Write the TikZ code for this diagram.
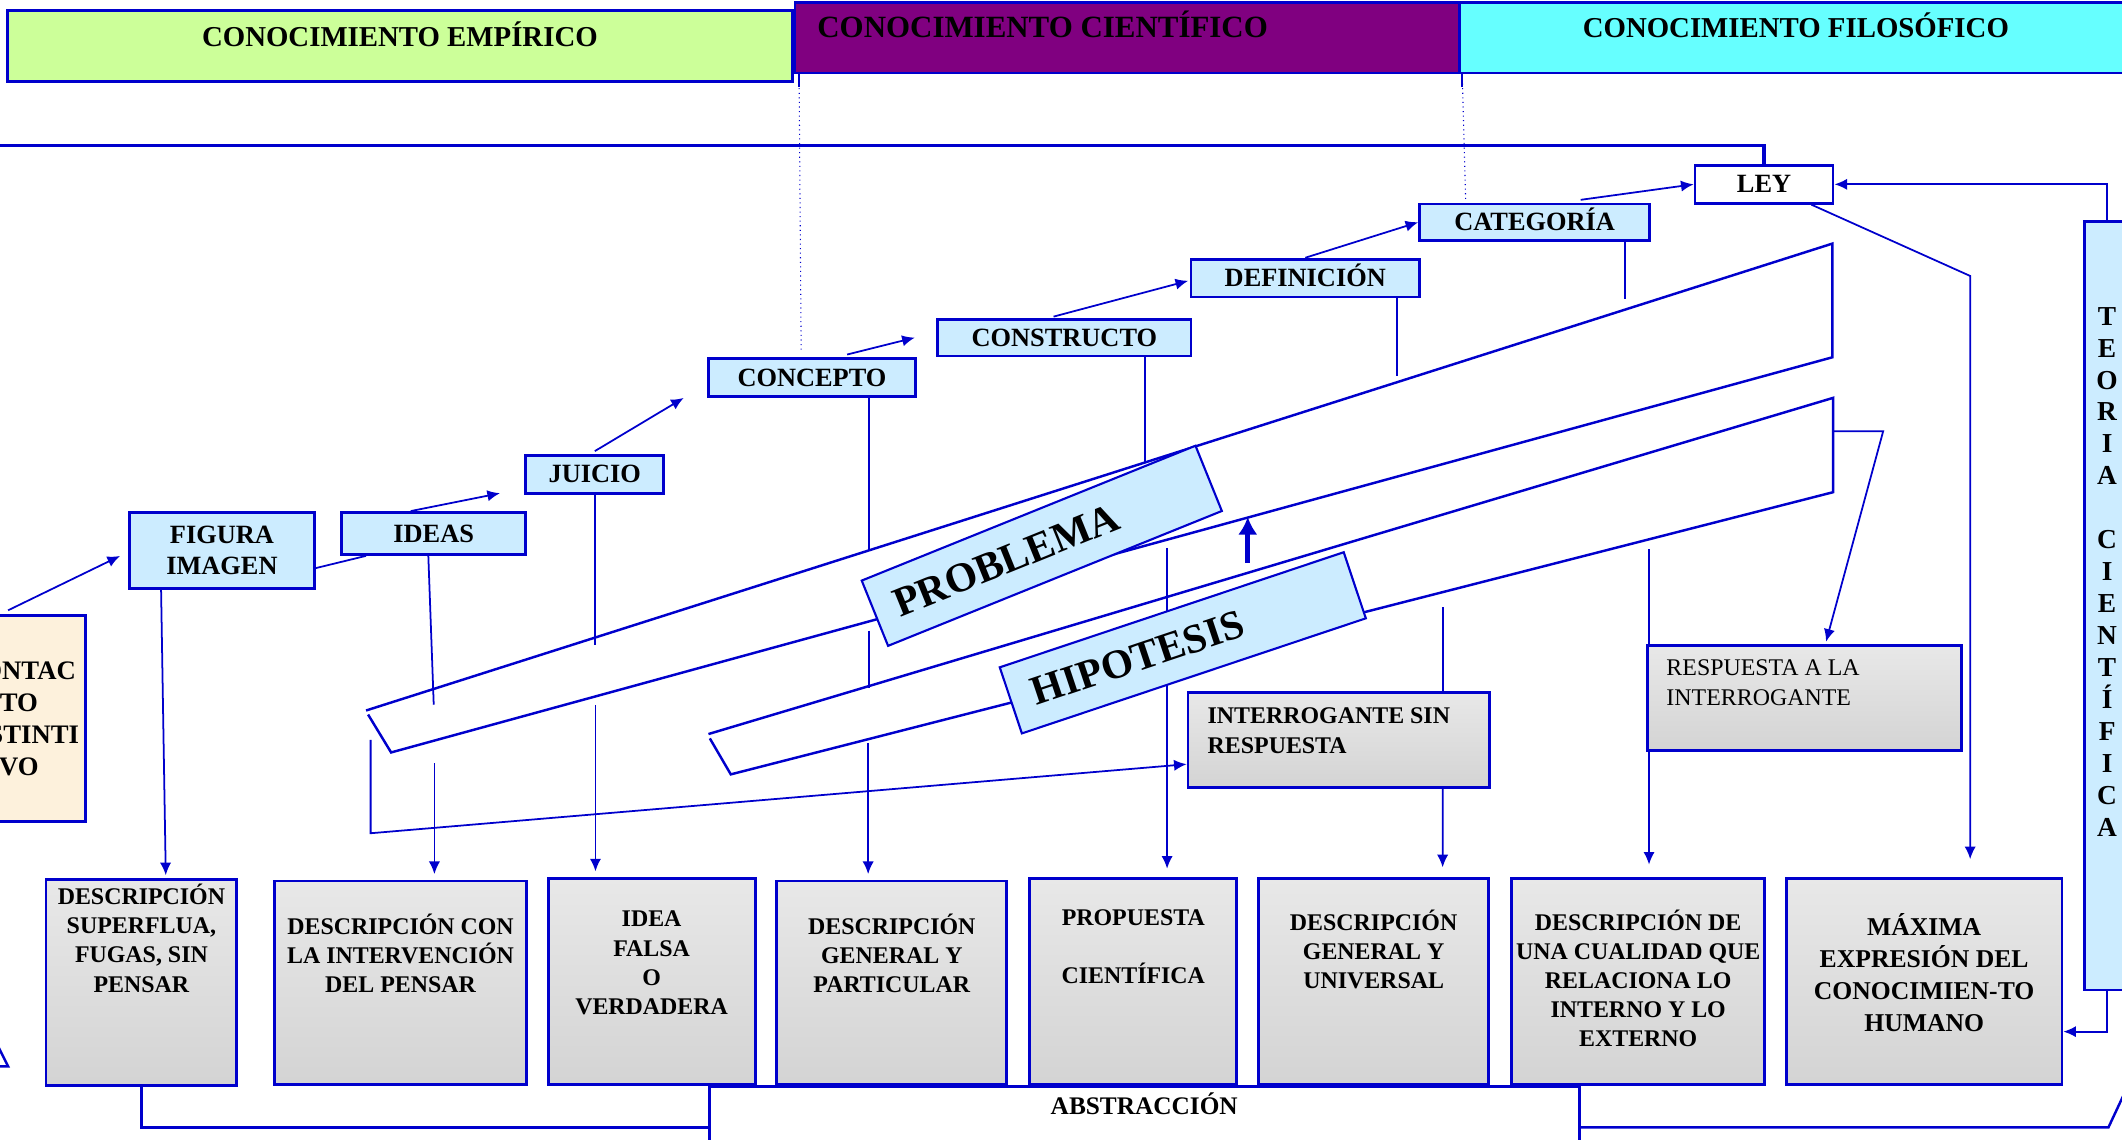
\documentclass[tikz,border=0pt]{standalone}
\usepackage{fontspec}
\setmainfont{Liberation Serif}
\usetikzlibrary{arrows.meta,backgrounds,positioning,calc}
\definecolor{lblue}{RGB}{204,236,255}
\definecolor{dblue}{RGB}{0,0,204}
\definecolor{empgreen}{RGB}{204,255,153}
\definecolor{cienpurple}{RGB}{128,0,128}
\definecolor{filocyan}{RGB}{102,255,255}
\definecolor{papyrus}{RGB}{253,241,220}
\newlength{\pxu}
\setlength{\pxu}{0.013533cm}
\tikzstyle{box}=[draw=dblue, line width=0.8pt, inner sep=0pt]
\tikzstyle{head}=[box, text height=15\pxu, text depth=15\pxu, font=\fontsize{8.2}{10}\selectfont\bfseries]
\tikzstyle{lbox}=[box, fill=lblue, font=\fontsize{7.5}{8.9}\selectfont\bfseries]
\tikzstyle{lone}=[lbox, text height=12.7\pxu, text depth=0pt]
\tikzstyle{marble}=[box, top color=black!9, middle color=black!4, bottom color=black!17]
\tikzstyle{btext}=[align=center, inner sep=0pt, font=\fontsize{6.8}{8.3}\selectfont\bfseries, execute at begin node=\strut]
\tikzstyle{ltext}=[align=left, inner sep=0pt, font=\fontsize{6.8}{8.4}\selectfont\bfseries]
\tikzstyle{tilt}=[draw=dblue, line width=0.6pt, fill=lblue, inner ysep=0pt, align=left]
\tikzstyle{conn}=[dblue, line width=0.5pt]
\tikzstyle{band}=[dblue, line width=0.7pt]

\begin{document}
\begin{tikzpicture}[x=\pxu, y=-\pxu, >={Latex[length=3.6pt,width=3.2pt]}]
\useasboundingbox (0,0) rectangle (1568,842);
\clip (0,0) rectangle (1568,842);
% cabecera
\node[head, fill=empgreen, minimum width=580\pxu, minimum height=53\pxu] (emp) at (295.5,34) {CONOCIMIENTO EMPÍRICO};
\node[head, fill=cienpurple, minimum width=491\pxu, minimum height=52\pxu, font=\fontsize{8.8}{10}\selectfont\bfseries] (cien) at (833,28) {\makebox[458\pxu][l]{CONOCIMIENTO CIENTÍFICO}};
\node[head, fill=filocyan, minimum width=497\pxu, minimum height=52\pxu] (filo) at (1327,28) {CONOCIMIENTO FILOSÓFICO};
% escalera
\node[box, fill=papyrus, align=center, minimum width=98\pxu, minimum height=152\pxu, font=\fontsize{7.6}{9.1}\selectfont\bfseries] (contacto) at (14,531) {CONTAC\\TO\\INSTINTI\\VO};
\node[lbox, align=center, minimum width=136.5\pxu, minimum height=56\pxu] (figura) at (164,406.8) {FIGURA\\IMAGEN};
\node[lone, minimum width=136\pxu, minimum height=31\pxu] (ideas) at (320.5,394.2) {IDEAS};
\node[lone, minimum width=102\pxu, minimum height=28\pxu] (juicio) at (439.5,350.4) {JUICIO};
\node[lone, minimum width=153.5\pxu, minimum height=28\pxu] (concepto) at (600,279) {CONCEPTO};
\node[lone, minimum width=187\pxu, minimum height=27\pxu] (constructo) at (786.5,249.5) {CONSTRUCTO};
\node[lone, minimum width=169\pxu, minimum height=28\pxu] (definicion) at (964.5,205.5) {DEFINICIÓN};
\node[lone, minimum width=170\pxu, minimum height=27\pxu] (categoria) at (1134,164.2) {CATEGORÍA};
\node[lone, fill=white, minimum width=102\pxu, minimum height=28\pxu] (ley) at (1303.5,136.2) {LEY};
\node[lbox, minimum width=34\pxu, minimum height=568\pxu] (teoria) at (1557,447.6) {};
\node[align=center, inner sep=0pt, font=\fontsize{7.8}{9.1}\selectfont\bfseries] (teoriat) at ($(teoria.center)+(0,-25)$) {T\\E\\O\\R\\I\\A\\ \\C\\I\\E\\N\\T\\Í\\F\\I\\C\\A};
% problema e hipotesis
\node[tilt, rotate=22, minimum width=266\pxu, minimum height=52\pxu, text width=234\pxu, inner xsep=16\pxu, font=\fontsize{11.8}{14}\selectfont\bfseries] (problema) at (769.8,403.3) {PROBLEMA};
\node[tilt, rotate=18.5, minimum width=268\pxu, minimum height=51.5\pxu, text width=234\pxu, inner xsep=17\pxu, font=\fontsize{11.7}{14}\selectfont\bfseries] (hipotesis) at (874,475) {HIPOTESIS};
\node[marble, minimum width=223\pxu, minimum height=70\pxu] (interrog) at (989.4,546.7) {};
\node[ltext, below right=11.8\pxu and 15\pxu of interrog.north west] (interrogt) {INTERROGANTE SIN\\RESPUESTA};
\node[marble, minimum width=232\pxu, minimum height=77.5\pxu] (resp) at (1333.3,516) {};
\node[ltext, font=\fontsize{6.8}{8.5}\selectfont, below right=10.5\pxu and 14.6\pxu of resp.north west] (respt) {RESPUESTA A LA\\INTERROGANTE};
% descripciones
\node[marble, minimum width=141\pxu, minimum height=152\pxu] (b1) at (104.5,725.8) {};
\node[btext, below=4\pxu of b1.north] (b1t) {DESCRIPCIÓN\\SUPERFLUA,\\FUGAS, SIN\\PENSAR};
\node[marble, minimum width=186\pxu, minimum height=150.7\pxu] (b2) at (296,726.3) {};
\node[btext, below=24.8\pxu of b2.north] (b2t) {DESCRIPCIÓN CON\\LA INTERVENCIÓN\\DEL PENSAR};
\node[marble, minimum width=153\pxu, minimum height=152.7\pxu] (b3) at (481.5,725.3) {};
\node[btext, below=24.8\pxu of b3.north] (b3t) {IDEA\\FALSA\\O\\VERDADERA};
\node[marble, minimum width=170\pxu, minimum height=150.7\pxu] (b4) at (659,726.3) {};
\node[btext, below=24.8\pxu of b4.north] (b4t) {DESCRIPCIÓN\\GENERAL Y\\PARTICULAR};
\node[marble, minimum width=153\pxu, minimum height=152.7\pxu] (b5) at (837.4,725.3) {};
\node[btext, below=23.8\pxu of b5.north] (b5t) {PROPUESTA\\\mbox{}\\CIENTÍFICA};
\node[marble, minimum width=170\pxu, minimum height=152.7\pxu] (b6) at (1015,725.3) {};
\node[btext, below=23.8\pxu of b6.north] (b6t) {DESCRIPCIÓN\\GENERAL Y\\UNIVERSAL};
\node[marble, minimum width=187\pxu, minimum height=152.7\pxu] (b7) at (1210.5,725.3) {};
\node[btext, below=23.8\pxu of b7.north] (b7t) {DESCRIPCIÓN DE\\UNA CUALIDAD QUE\\RELACIONA LO\\INTERNO Y LO\\EXTERNO};
\node[marble, minimum width=203.6\pxu, minimum height=152.7\pxu] (b8) at (1421.8,725.3) {};
\node[btext, font=\fontsize{7.3}{9.1}\selectfont\bfseries, below=26.7\pxu of b8.north] (b8t) {MÁXIMA\\EXPRESIÓN DEL\\CONOCIMIEN-TO\\HUMANO};
\node[box, fill=white, minimum width=643\pxu, minimum height=60\pxu] (abs) at (845.5,833) {};
\node[inner sep=0pt, text height=12.4\pxu, text depth=0pt, font=\fontsize{7.2}{9}\selectfont\bfseries] (abst) at ($(abs.north)+(0,15)$) {ABSTRACCIÓN};

\begin{pgfonlayer}{background}
\clip (0,0) rectangle (1568,842);
% linea superior y punteadas
\coordinate (topend) at (-5,107.5);
\draw[dblue, line width=0.9pt] (ley.north) |- (topend);
\draw[dblue, line width=0.6pt] ($(cien.south west)+(4,0)$) -- ++(0,9);
\draw[dblue, line width=0.3pt, densely dotted] ($(cien.south west)+(4,0)$) -- ($(concepto.north)+(-8,-5)$);
\draw[dblue, line width=0.6pt] ($(filo.south west)+(3,0)$) -- ++(0,9);
\draw[dblue, line width=0.3pt, densely dotted] ($(filo.south west)+(3,0)$) -- ($(categoria.north)+(-51,-2)$);
% cintas
\coordinate (r1a) at (270.5,525);
\coordinate (r1b) at (1354,180);
\coordinate (r1c) at (1354,264);
\coordinate (r1e) at (289,556);
\coordinate (r1f) at (272,528);
\draw[band] (r1f) -- (r1e) -- (r1c) -- (r1b) -- (r1a);
\coordinate (r2a) at (523.5,542.4);
\coordinate (r2b) at (1354.5,294);
\coordinate (r2c) at (1354.5,363.7);
\coordinate (r2e) at (540,572.2);
\coordinate (r2f) at (524.5,545.6);
\coordinate (r2m) at (1354.5,318.7);
\draw[band] (r2f) -- (r2e) -- (r2c) -- (r2b) -- (r2a);
\draw[band] (-5,766) -- (6,788) -- (-12,788);
% escalera
\draw[conn,->] ($(contacto.north)+(-8,-3)$) -- ($(figura.west)+(-6,4)$);
\draw[conn] ($(figura.east)+(0,13)$) -- ($(ideas.south west)+(19,0)$);
\draw[conn,->] ($(ideas.north)+(-17,0)$) -- ($(juicio.south west)+(-18,-1)$);
\draw[conn,->] ($(juicio.north)+(0,-2)$) -- ($(concepto.south west)+(-17,0)$);
\draw[conn,->] ($(concepto.north)+(26,-2)$) -- ($(constructo.west)+(-16,0)$);
\draw[conn,->] ($(constructo.north)+(-8,-1)$) -- ($(definicion.west)+(-1,2)$);
\draw[conn,->] (definicion.north) -- (categoria.west);
\draw[conn,->] ($(categoria.north)+(34,-2)$) -- (ley.west);
\draw[conn,->] ($(ley.south)+(35,0)$) -- ($(b8.north)+(34,-444)$) -- ($(b8.north)+(34,-13)$);
\draw[conn,->] (teoria.north) |- (ley.east);
\draw[conn,->] (teoria.south) |- ($(b8.east)+(0,37)$);
% bajadas
\draw[conn,->] ($(figura.south)+(-45,-2)$) -- ($(b1.north)+(18,-2)$);
\draw[conn] ($(ideas.south)+(-4,0)$) -- ($(ideas.south)+(0,110)$);
\draw[conn,->] ($(b2.north)+(25,-86)$) -- ($(b2.north)+(25,-4)$);
\draw[conn] (juicio.south) -- ($(juicio.south)+(0,111)$);
\draw[conn,->] ($(b3.north)+(-41.5,-127)$) -- ($(b3.north)+(-41.5,-4)$);
\draw[conn] ($(concepto.south)+(42,0)$) -- ($(concepto.south)+(42,112)$);
\draw[conn] ($(concepto.south)+(42,172)$) -- ($(concepto.south)+(42,214)$);
\draw[conn,->] ($(b4.north)+(-17.5,-101)$) -- ($(b4.north)+(-17.5,-4)$);
\draw[conn] ($(constructo.south)+(59.5,0)$) -- ($(constructo.south)+(59.5,77)$);
\draw[conn,->] ($(b5.north)+(25,-243)$) -- ($(b5.north)+(25,-6)$);
\draw[conn] ($(definicion.south)+(67.5,0)$) -- ($(definicion.south)+(67.5,57)$);
\draw[conn] ($(interrog.north)+(76.6,-62)$) -- ($(interrog.north)+(76.6,0)$);
\draw[conn,->] ($(interrog.south)+(76.6,0)$) -- ($(b6.north)+(51,-7)$);
\draw[conn] ($(categoria.south)+(67,0)$) -- ($(categoria.south)+(67,42)$);
\draw[conn,->] ($(b7.north)+(8,-242)$) -- ($(b7.north)+(8,-9)$);
\draw[conn,->] (r2m) -- ++(37,0) -- ($(resp.north)+(16,-2)$);
\draw[conn,->] ($(interrog.west)+(-603,0)$) -- ++(0,69) -- ($(interrog.west)+(0,18)$);
\draw[dblue, line width=1.5pt, -{Latex[length=5pt,width=5.5pt]}] ($(hipotesis.center)+(48,-59)$) -- ($(hipotesis.center)+(48,-93)$);
% abstraccion
\coordinate (absbend) at (1558,833);
\coordinate (absend) at (1580,786);
\draw[conn, line width=0.7pt] (b1.south) |- (abs.west);
\draw[conn, line width=0.7pt] (abs.east) -- (absbend) -- (absend);
\end{pgfonlayer}
\end{tikzpicture}
\end{document}
